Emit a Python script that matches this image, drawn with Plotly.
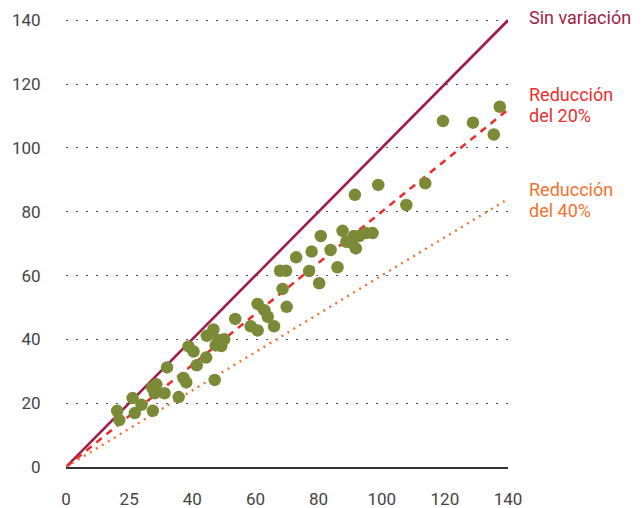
import plotly.graph_objects as go

# Data (x = antes, y = después)
x_vals = [16.2, 16.9, 21.1, 21.8, 23.9, 27.5, 27.3, 28.6, 28.1, 31.2,
          32.0, 35.7, 37.2, 38.1, 41.4, 44.4, 47.1, 38.8, 40.4, 44.6,
          46.7, 48.2, 50.1, 47.4, 49.2, 53.6, 58.5, 60.7, 60.7, 62.9,
          63.9, 65.9, 69.9, 68.6, 67.8, 69.7, 72.9, 77.0, 80.2, 77.8,
          80.7, 83.8, 86.0, 87.6, 88.8, 91.2, 91.8, 92.9, 95.0, 97.1,
          90.6, 91.5, 98.9, 107.8, 113.8, 119.4, 128.9, 135.5, 137.4]
y_vals = [17.6, 14.7, 21.6, 16.9, 19.5, 17.6, 24.9, 25.9, 23.1, 23.1,
          31.2, 21.9, 27.9, 26.5, 31.9, 34.3, 27.3, 37.8, 36.2, 41.1,
          43.1, 39.8, 40.0, 38.1, 37.9, 46.4, 44.1, 42.8, 51.1, 49.1,
          47.1, 44.1, 50.2, 55.8, 61.5, 61.5, 65.7, 61.4, 57.6, 67.5,
          72.4, 68.0, 62.6, 74.0, 70.6, 72.4, 68.5, 72.4, 73.3, 73.3,
          70.2, 85.3, 88.4, 82.1, 88.9, 108.4, 107.9, 104.2, 112.9]

ref_x = [0, 140]
line_labels = [["Sin variación"], ["Reducción", "del 20%"], ["Reducción", "del 40%"]]
line_factors = [1.0, 0.8, 0.6]
label_y = [[140.9], [116.8, 110.3], [87.0, 80.5]]

tick_vals = [0, 20, 40, 60, 80, 100, 120, 140]
x_tick_text = ["0", "25", "40", "60", "80", "100", "120", "140"]
y_tick_text = ["0", "20", "40", "60", "80", "100", "120", "140"]

line_colors = ["#a01d48", "#e8302f", "#f3722f"]
line_dashes = ["solid", "7px,6px", "2px,5px"]
line_widths = [2.6, 2.6, 2.4]

Y_MAX = 140.4

fig = go.Figure()
for f, c, d, w in zip(line_factors, line_colors, line_dashes, line_widths):
    fig.add_trace(go.Scatter(x=ref_x, y=[v * f for v in ref_x], mode="lines",
                             line=dict(color=c, width=w, dash=d),
                             hoverinfo="skip", showlegend=False, cliponaxis=False))

fig.add_trace(go.Scatter(x=x_vals, y=y_vals, mode="markers",
                         marker=dict(color="#7b8a36", size=12.5, line=dict(width=0)),
                         cliponaxis=False, showlegend=False))

for texts, ys, c in zip(line_labels, label_y, line_colors):
    for t, ly in zip(texts, ys):
        fig.add_annotation(x=146 / 140, y=ly / Y_MAX, xref="paper", yref="paper", text=t,
                           showarrow=False, xanchor="left", yanchor="middle", align="left",
                           font=dict(family="Roboto", size=18, color=c))

fig.update_layout(
    width=636, height=500,
    margin=dict(l=57.5, r=135.7, t=10.8, b=40.8),
    plot_bgcolor="white", paper_bgcolor="white",
    font=dict(family="Roboto", size=17, color="#444444"),
)
fig.update_xaxes(range=[0, 140], tickvals=tick_vals, ticktext=x_tick_text, automargin=False,
                 showgrid=False, zeroline=False, showline=True, linecolor="#333333",
                 linewidth=1.5, ticks="outside", ticklen=16, tickcolor="rgba(0,0,0,0)")
fig.update_yaxes(range=[0, Y_MAX], tickvals=tick_vals, ticktext=y_tick_text, automargin=False,
                 showgrid=True, gridcolor="#555555", gridwidth=1.3, griddash="2px,8px",
                 zeroline=False, showline=False,
                 ticks="outside", ticklen=21, tickcolor="rgba(0,0,0,0)")

fig.write_html("out.html")
